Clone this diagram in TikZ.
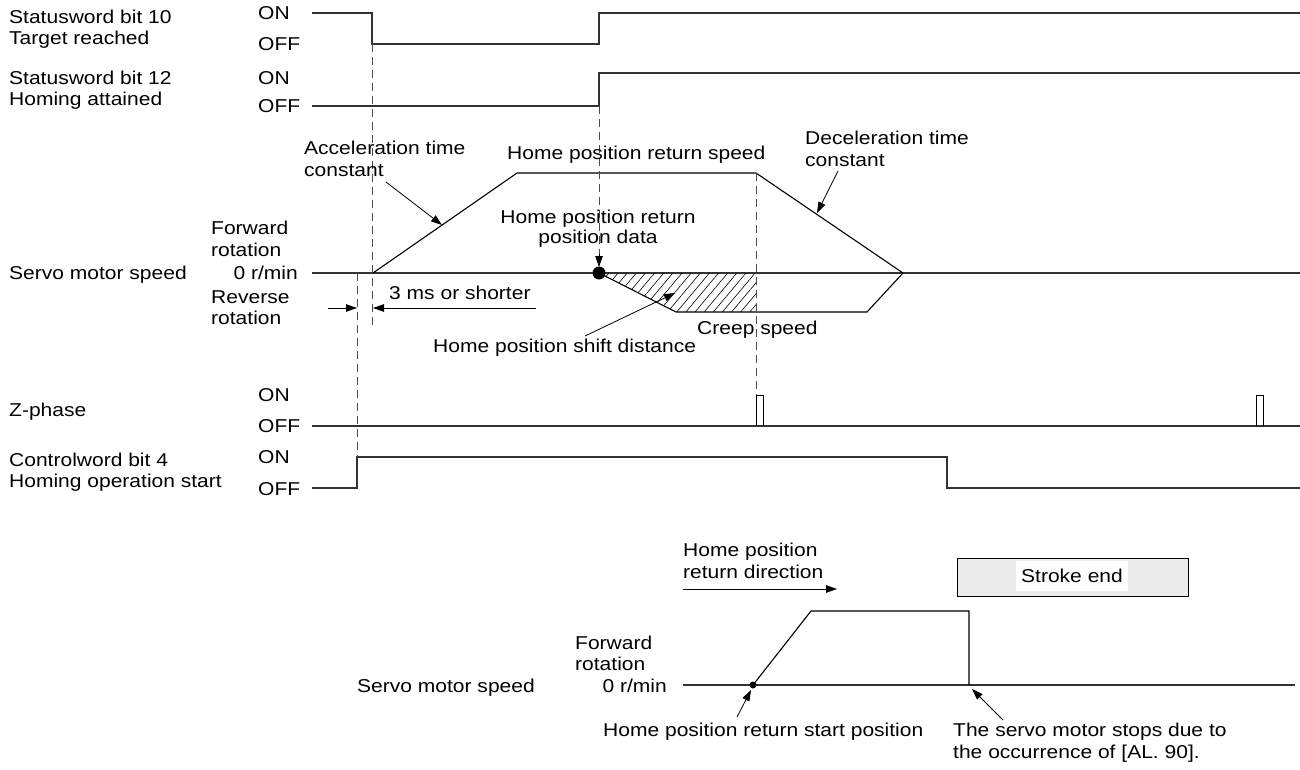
\documentclass[tikz,border=0pt]{standalone}
\usepackage{fontspec}
\setmainfont{Liberation Sans}[FakeStretch=1.13]
\usetikzlibrary{arrows.meta,patterns.meta}
\begin{document}
\begin{tikzpicture}[x=1pt,y=-1pt,
  txt/.style={inner sep=0pt, font=\fontsize{18.6}{21}\selectfont, text height=13.3pt, text depth=0pt},
  lw/.style={txt, anchor=west},
  le/.style={txt, anchor=east},
  lc/.style={txt, anchor=center},
  sig/.style={line width=1.4pt, draw=black!80, line join=miter},
  prof/.style={line width=1.1pt, draw=black},
  dsh/.style={line width=0.9pt, draw=black!70, dash pattern=on 8pt off 5pt},
  tip/.style={-{Triangle[length=11pt,width=7.5pt]}},
  ann/.style={line width=0.8pt, draw=black, tip}]
\useasboundingbox (0,0) rectangle (1300,770);

% ---- left labels
\node[lw] (s10a) at (9,17) {Statusword bit 10};
\node[lw] (s10b) at (9,38) {Target reached};
\node[lw] (s12a) at (9,78) {Statusword bit 12};
\node[lw] (s12b) at (9,99) {Homing attained};
\node[lw] (spd) at (9,273) {Servo motor speed};
\node[lw] (zph) at (9,410) {Z-phase};
\node[lw] (cw4a) at (9,460) {Controlword bit 4};
\node[lw] (cw4b) at (9,481) {Homing operation start};

% ---- ON / OFF labels
\node[lw] (on1) at (258,13) {ON};
\node[lw] (off1) at (258,44) {OFF};
\node[lw] (on2) at (258,78) {ON};
\node[lw] (off2) at (258,106) {OFF};
\node[lw] (on3) at (258,395) {ON};
\node[lw] (off3) at (258,426) {OFF};
\node[lw] (on4) at (258,457) {ON};
\node[lw] (off4) at (258,489) {OFF};

% ---- speed axis labels
\node[lw] (fw1) at (211,228) {Forward};
\node[lw] (fw2) at (211,250) {rotation};
\node[le] (zr) at (298,273) {0 r/min};
\node[lw] (rv1) at (211,297) {Reverse};
\node[lw] (rv2) at (211,318) {rotation};

% ---- signals
\draw[sig] (312,13) -- (372,13) -- (372,44) -- (599,44) -- (599,13) -- (1300,13);
\draw[sig] (312,106) -- (599,106) -- (599,73) -- (1300,73);
\draw[sig] (312,273) -- (1300,273);
\draw[sig] (312,426) -- (1300,426);
\draw[line width=1pt] (756,426) -- (756,395) -- (763,395) -- (763,426);
\draw[line width=1pt] (1256,426) -- (1256,395) -- (1263,395) -- (1263,426);
\draw[sig] (312,488) -- (357,488) -- (357,457) -- (947,457) -- (947,488) -- (1300,488);

% ---- speed profile
\fill[pattern={Lines[angle=50,distance=7pt,line width=0.6pt]}] (599,273) -- (676,312) -- (756,312) -- (756,273) -- cycle;
\draw[prof] (373,273) -- (517,173) -- (756,173) -- (903,273);
\draw[prof] (599,273) -- (676,312) -- (867,312) -- (903,273);

% ---- dashed guides
\draw[dsh] (372,44) -- (372,326);
\draw[dsh] (357,273) -- (357,457);
\draw[dsh] (756,173) -- (756,395);
\coordinate (dotTop) at (599,267);
\draw[dsh] (599,106) -- (599,256);
\draw[ann] (599,254) -- (dotTop);
\fill (599,273) circle (6.5pt);

% ---- 3 ms
\coordinate (m1) at (357,308);
\coordinate (m2) at (373,308);
\draw[ann] (328,308) -- (m1);
\draw[ann] (536,308) -- (m2);
\node[lw] (tms) at (389,293) {3 ms or shorter};

% ---- annotations
\node[lw] (acc1) at (304,148) {Acceleration time};
\node[lw] (acc2) at (304,170) {constant};
\coordinate (accT) at (442,225);
\draw[ann] (386,182) -- (accT);

\node[lw] (hrs) at (507,153) {Home position return speed};

\node[lc] (hpd1) at (598,217) {Home position return};
\node[lc] (hpd2) at (598,237) {position data};

\node[lw] (dec1) at (805,138) {Deceleration time};
\node[lw] (dec2) at (805,160) {constant};
\coordinate (decT) at (817,213);
\draw[ann] (838,171) -- (decT);

\node[lw] (shift) at (433,346) {Home position shift distance};
\coordinate (shT) at (675,293);
\draw[ann] (585,336) -- (shT);

\node[lw] (creep) at (697,328) {Creep speed};

% ---- bottom part
\node[lw] (hd1) at (683,550) {Home position};
\node[lw] (hd2) at (683,572) {return direction};
\coordinate (hdT) at (837,589);
\draw[ann] (683,589) -- (hdT);

\draw[line width=1pt, fill=black!8] (957,558) rectangle (1188,596);
\node[lc, fill=white, inner xsep=5.5pt, inner ysep=8pt] (se) at (1072,576) {Stroke end};

\node[lw] (bfw1) at (575,643) {Forward};
\node[lw] (bfw2) at (575,664) {rotation};
\node[le] (bzr) at (667,686) {0 r/min};
\node[lw] (bspd) at (357,686) {Servo motor speed};

\draw[sig] (683,685) -- (1295,685);
\draw[prof] (753,685) -- (811,611) -- (969,611) -- (969,685);
\fill (753,685) circle (3.5pt);

\node[lw] (hst) at (603,730) {Home position return start position};
\coordinate (hsT) at (751,690);
\draw[ann] (737,717) -- (hsT);

\node[lw] (al1) at (953,730) {The servo motor stops due to};
\node[lw] (al2) at (953,752) {the occurrence of [AL. 90].};
\coordinate (alT) at (972,689);
\draw[ann] (1003,720) -- (alT);
\end{tikzpicture}
\end{document}
